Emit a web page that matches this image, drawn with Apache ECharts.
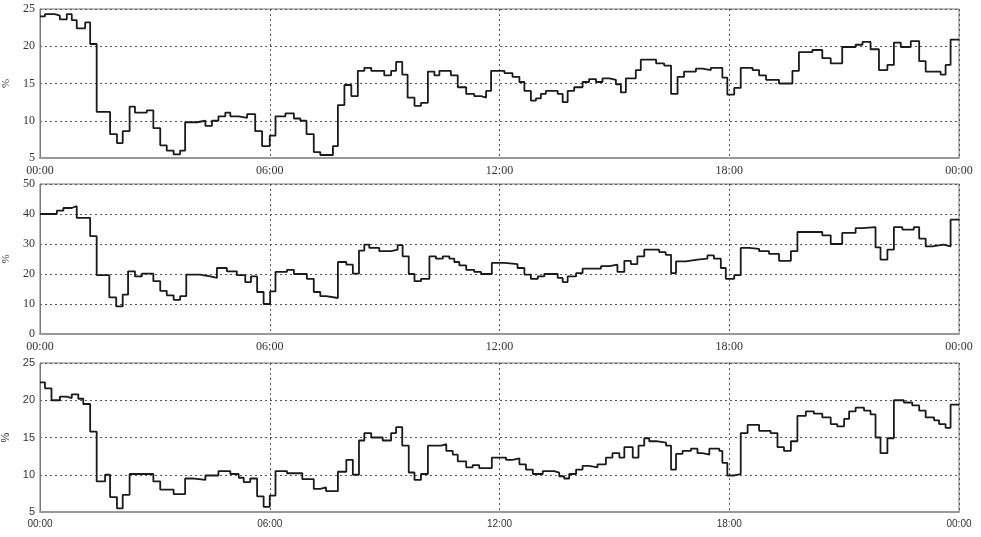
<!DOCTYPE html>
<html>
<head>
<meta charset="utf-8">
<script src="https://cdn.jsdelivr.net/npm/echarts@6/dist/echarts.min.js"></script>
<style>
  html, body { margin: 0; padding: 0; background: #fff; }
  #chart { width: 981px; height: 537px; }
</style>
</head>
<body>
<div id="chart"></div>
<script>
// x ticks (hours), labels
var hourTicks = [0, 6, 12, 18, 24];
var tickLabels = ["00:00", "06:00", "12:00", "18:00", "00:00"];

// panel 1: step change times (h) and values (%)
var times1 = [
  0, 0.13, 0.39, 0.52, 0.70, 0.83, 0.96, 1.18,
  1.31, 1.48, 1.83, 2.01, 2.16, 2.34, 2.48, 2.79,
  2.96, 3.14, 3.31, 3.49, 3.66, 3.79, 4.10, 4.32,
  4.49, 4.66, 4.84, 4.97, 5.19, 5.41, 5.62, 5.80,
  6.00, 6.15, 6.41, 6.63, 6.80, 6.96, 7.15, 7.32,
  7.65, 7.78, 7.95, 8.13, 8.30, 8.47, 8.65, 8.99,
  9.17, 9.30, 9.46, 9.60, 9.78, 9.95, 10.13, 10.30,
  10.43, 10.73, 10.91, 11.13, 11.34, 11.52, 11.65, 11.78,
  12.13, 12.34, 12.52, 12.65, 12.82, 12.95, 13.08, 13.21,
  13.52, 13.65, 13.78, 13.95, 14.17, 14.34, 14.52, 14.69,
  14.87, 15.04, 15.17, 15.30, 15.56, 15.69, 16.09, 16.30,
  16.48, 16.65, 16.82, 17.13, 17.30, 17.52, 17.82, 17.95,
  18.13, 18.30, 18.61, 18.78, 18.96, 19.30, 19.65, 19.82,
  20.17, 20.43, 20.65, 20.95, 21.30, 21.48, 21.69, 21.91,
  22.13, 22.30, 22.48, 22.74, 22.96, 23.13, 23.52, 23.65,
  23.78
];
var values1 = [
  24.0, 24.3, 24.1, 23.6, 24.3, 23.5, 22.4, 23.2,
  20.3, 11.2, 8.2, 7.0, 8.6, 11.9, 11.1, 11.4,
  9.0, 6.7, 6.0, 5.5, 6.0, 9.8, 10.0, 9.3,
  10.0, 10.6, 11.1, 10.6, 10.4, 10.9, 8.6, 6.6,
  8.0, 10.6, 11.0, 10.3, 10.0, 8.2, 5.8, 5.4,
  6.6, 12.1, 14.8, 13.3, 16.7, 17.1, 16.7, 16.1,
  16.7, 17.9, 16.2, 13.1, 12.0, 12.4, 16.6, 16.1,
  16.7, 16.1, 14.5, 13.6, 13.3, 13.1, 14.0, 16.7,
  16.4, 15.9, 15.2, 14.0, 12.7, 13.0, 13.6, 14.0,
  13.6, 12.5, 14.0, 14.5, 15.2, 15.6, 15.2, 15.7,
  15.5, 14.9, 13.8, 15.7, 16.8, 18.2, 17.7, 17.4,
  13.6, 15.9, 16.6, 17.0, 16.8, 17.1, 15.8, 13.5,
  14.4, 17.1, 16.8, 16.1, 15.5, 15.0, 16.7, 19.2,
  19.5, 18.4, 17.7, 19.9, 20.2, 20.6, 19.6, 16.8,
  17.5, 20.5, 19.9, 20.7, 18.0, 16.6, 16.2, 17.5,
  20.9
];

// panel 2
var times2 = [
  0, 0.44, 0.61, 0.83, 0.96, 1.31, 1.48, 1.81,
  1.99, 2.16, 2.30, 2.48, 2.66, 2.96, 3.14, 3.31,
  3.49, 3.66, 3.82, 4.18, 4.45, 4.62, 4.88, 5.14,
  5.36, 5.51, 5.67, 5.84, 6.01, 6.15, 6.45, 6.63,
  6.97, 7.15, 7.32, 7.47, 7.78, 8.00, 8.17, 8.33,
  8.47, 8.60, 8.86, 9.17, 9.34, 9.47, 9.63, 9.78,
  9.95, 10.17, 10.34, 10.52, 10.69, 10.82, 10.95, 11.13,
  11.34, 11.52, 11.80, 12.13, 12.47, 12.65, 12.82, 13.00,
  13.17, 13.52, 13.65, 13.78, 14.00, 14.17, 14.65, 14.87,
  15.08, 15.26, 15.43, 15.60, 15.78, 16.17, 16.34, 16.48,
  16.61, 16.87, 17.17, 17.43, 17.60, 17.78, 17.91, 18.13,
  18.30, 18.52, 18.78, 19.04, 19.30, 19.61, 19.78, 20.43,
  20.65, 20.95, 21.30, 21.48, 21.82, 21.95, 22.13, 22.30,
  22.52, 22.82, 22.96, 23.13, 23.30, 23.60, 23.78
];
var values2 = [
  40.0, 41.1, 42.0, 42.6, 38.7, 32.6, 19.6, 12.2,
  9.2, 13.1, 20.9, 19.2, 20.1, 17.6, 14.4, 12.9,
  11.4, 12.6, 19.8, 19.2, 18.7, 22.0, 20.9, 19.6,
  17.3, 19.2, 14.0, 10.0, 14.2, 20.7, 21.4, 20.0,
  18.4, 14.0, 12.6, 12.0, 24.0, 23.1, 20.1, 27.8,
  29.8, 28.7, 27.6, 28.1, 29.6, 25.9, 20.0, 17.6,
  18.4, 25.9, 25.1, 25.9, 25.1, 24.0, 22.9, 21.4,
  20.7, 20.0, 23.7, 23.3, 22.0, 19.8, 18.4, 19.2,
  20.0, 18.7, 17.3, 19.2, 20.3, 21.8, 22.6, 23.1,
  20.7, 24.4, 23.3, 25.9, 28.1, 27.3, 26.4, 20.3,
  24.2, 24.8, 25.1, 26.2, 25.1, 22.0, 18.4, 19.6,
  28.7, 28.4, 27.6, 26.7, 24.4, 27.6, 34.0, 32.9,
  30.0, 33.7, 35.3, 35.6, 28.9, 24.8, 28.1, 35.6,
  34.8, 35.6, 31.8, 29.2, 29.8, 29.2, 38.1
];

// panel 3
var times3 = [
  0, 0.13, 0.30, 0.52, 0.70, 0.83, 1.00, 1.13,
  1.31, 1.48, 1.70, 1.83, 2.01, 2.16, 2.34, 2.96,
  3.14, 3.49, 3.79, 3.97, 4.32, 4.66, 4.97, 5.19,
  5.32, 5.49, 5.67, 5.84, 6.00, 6.15, 6.45, 6.85,
  7.15, 7.32, 7.47, 7.78, 8.00, 8.17, 8.33, 8.47,
  8.65, 8.95, 9.17, 9.30, 9.46, 9.63, 9.78, 9.95,
  10.13, 10.48, 10.61, 10.78, 10.91, 11.13, 11.30, 11.47,
  11.80, 12.17, 12.34, 12.52, 12.69, 12.87, 13.13, 13.43,
  13.56, 13.69, 13.82, 14.00, 14.17, 14.34, 14.56, 14.78,
  14.95, 15.13, 15.26, 15.48, 15.63, 15.78, 15.91, 16.09,
  16.35, 16.48, 16.61, 16.78, 17.00, 17.17, 17.30, 17.48,
  17.74, 17.82, 17.95, 18.13, 18.30, 18.48, 18.78, 19.08,
  19.26, 19.43, 19.61, 19.78, 20.00, 20.21, 20.43, 20.65,
  20.82, 21.00, 21.13, 21.30, 21.52, 21.69, 21.82, 21.95,
  22.13, 22.30, 22.56, 22.78, 22.96, 23.13, 23.35, 23.48,
  23.65, 23.78
];
var values3 = [
  22.4, 21.6, 20.0, 20.5, 20.3, 20.8, 20.2, 19.5,
  15.8, 9.1, 10.0, 7.0, 5.5, 7.3, 10.1, 9.1,
  8.0, 7.4, 9.5, 9.3, 9.9, 10.5, 10.1, 9.6,
  9.0, 9.5, 7.1, 5.7, 7.2, 10.5, 10.2, 9.4,
  8.1, 8.3, 7.8, 10.4, 12.0, 10.0, 14.6, 15.6,
  15.0, 14.6, 15.6, 16.4, 13.9, 10.3, 9.3, 10.1,
  13.9, 14.1, 13.2, 12.7, 11.8, 11.0, 11.3, 10.9,
  12.3, 12.0, 12.2, 11.4, 10.7, 10.1, 10.5, 10.3,
  9.8, 9.5, 10.1, 10.7, 11.2, 11.0, 11.4, 12.3,
  12.9, 12.3, 13.7, 12.3, 13.9, 14.9, 14.5, 14.3,
  13.9, 10.7, 12.8, 13.2, 13.5, 12.9, 12.7, 13.5,
  13.2, 11.6, 9.9, 10.1, 15.6, 16.7, 15.9, 15.6,
  13.7, 13.2, 14.5, 17.9, 18.5, 18.2, 17.7, 16.8,
  16.5, 17.5, 18.5, 19.0, 18.6, 18.1, 15.0, 12.9,
  14.9, 20.0, 19.7, 19.3, 18.6, 17.7, 17.3, 16.8,
  16.3, 19.4
];

// y axis ranges per panel
var yMins = [5, 0, 5];
var yMaxs = [25, 50, 25];
var yIntervals = [5, 10, 5];

var panels = [[times1, values1], [times2, values2], [times3, values3]];
var gridTops = [9, 184, 363];
var gridHeights = [149, 150, 149];
var fonts = ["Liberation Serif", "Liberation Serif", "Liberation Sans"];

// 把时间和数值拼成阶梯线的点
function toSteps(times, values) {
  var pts = [];
  for (var i = 0; i < times.length; i++) {
    pts.push([times[i], values[i]]);
  }
  pts.push([24, values[values.length - 1]]);
  return pts;
}

var dotted = { type: [2, 3], color: "#555", width: 1 };

var grids = [], xAxes = [], yAxes = [], series = [];
for (var k = 0; k < 3; k++) {
  grids.push({
    left: 40, right: 22, top: gridTops[k], height: gridHeights[k],
    outerBoundsMode: "none", containLabel: false,
    show: true, borderColor: "#777", borderWidth: 1, backgroundColor: "#fff"
  });
  xAxes.push({
    type: "value", gridIndex: k, min: 0, max: 24, interval: 6,
    axisLine: { show: true, onZero: false, lineStyle: { color: "#999", width: 2 } },
    axisTick: { show: false },
    splitLine: { show: true, lineStyle: dotted },
    axisLabel: {
      margin: 7, color: "#333", fontSize: k === 2 ? 10 : 12, fontFamily: fonts[k],
      formatter: function (v) { return tickLabels[hourTicks.indexOf(v)]; }
    }
  });
  yAxes.push({
    type: "value", gridIndex: k, min: yMins[k], max: yMaxs[k], interval: yIntervals[k],
    name: "%", nameLocation: "middle", nameGap: 27,
    nameTextStyle: { color: "#333", fontSize: 11, fontFamily: fonts[k] },
    axisLine: { show: true, lineStyle: { color: "#777", width: 1 } },
    axisTick: { show: false },
    splitLine: { show: true, lineStyle: dotted },
    axisLabel: { margin: 5, color: "#333", fontSize: k === 2 ? 11 : 12, fontFamily: fonts[k] }
  });
  series.push({
    type: "line", xAxisIndex: k, yAxisIndex: k, step: "end",
    showSymbol: false, silent: true, animation: false,
    lineStyle: { color: "#1a1a1a", width: 1.8 },
    data: toSteps(panels[k][0], panels[k][1])
  });
}

var chart = echarts.init(document.getElementById("chart"));
chart.setOption({
  animation: false,
  grid: grids,
  xAxis: xAxes,
  yAxis: yAxes,
  series: series
});
</script>
</body>
</html>
